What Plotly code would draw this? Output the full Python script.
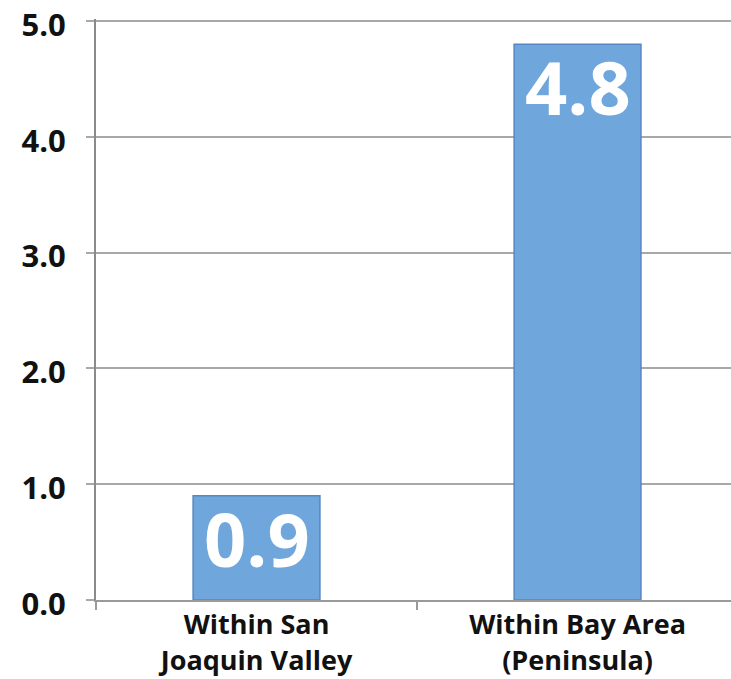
import plotly.graph_objects as go

categories = ["Within San<br>Joaquin Valley", "Within Bay Area<br>(Peninsula)"]
values = [0.9, 4.8]
value_labels = ["0.9", "4.8"]
y_ticks = [0, 1, 2, 3, 4, 5]
y_tick_labels = ["0.0", "1.0", "2.0", "3.0", "4.0", "5.0"]

cat_ticks = ["<b>%s</b>" % c for c in categories]

fig = go.Figure(
    go.Bar(
        x=cat_ticks,
        y=values,
        width=0.395,
        marker=dict(color="#6fa6dc", line=dict(color="#5587c3", width=1.5)),
    )
)

for c, v, t in zip(cat_ticks, values, value_labels):
    fig.add_annotation(
        x=c, y=v, text="<b>%s</b>" % t, showarrow=False,
        yanchor="top", yshift=10,
        font=dict(family="Open Sans", size=74, color="white"),
    )

fig.update_layout(
    width=731,
    height=679,
    margin=dict(l=96, r=0, t=19, b=79, autoexpand=False),
    paper_bgcolor="white",
    plot_bgcolor="white",
    showlegend=False,
    font=dict(family="Open Sans", color="#111111"),
)

fig.update_xaxes(
    type="category",
    range=[-0.5, 1.478],
    tickfont=dict(size=27, family="Open Sans", color="#111111"),
    showgrid=False,
    showline=True,
    linecolor="#9a9a9a",
    linewidth=2,
    ticks="outside",
    tickson="boundaries",
    ticklen=8,
    tickcolor="#9a9a9a",
    tickwidth=1.5,
    zeroline=False,
    automargin=False,
)

fig.update_yaxes(
    range=[0, 5.0175],
    tickmode="array",
    tickvals=y_ticks,
    ticktext=["<b>%s</b>" % t for t in y_tick_labels],
    tickfont=dict(size=31, family="Open Sans", color="#111111"),
    ticklabeloverflow="allow",
    ticklabelshift=4,
    showgrid=True,
    gridcolor="#a8a8a8",
    gridwidth=2,
    showline=True,
    linecolor="#8a8a8a",
    linewidth=2,
    ticks="outside",
    ticklen=8,
    tickcolor="#a8a8a8",
    tickwidth=2,
    ticklabelstandoff=14,
    zeroline=False,
    automargin=False,
)

fig.write_html("out.html")
